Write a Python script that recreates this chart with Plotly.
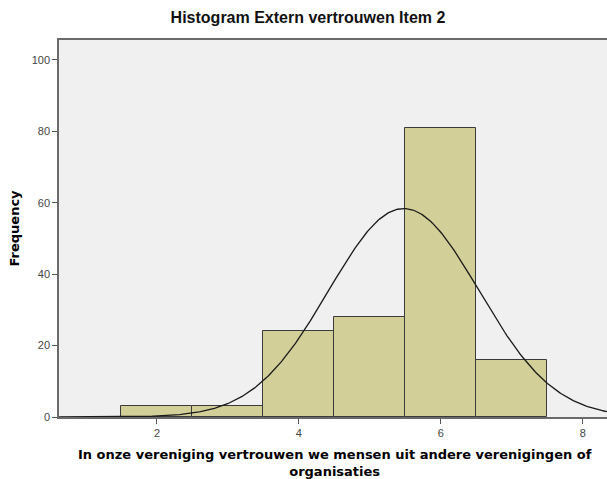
import numpy as np
import plotly.graph_objects as go

# Response categories and their counts
categories = [2, 3, 4, 5, 6, 7]
counts = [3, 3, 24, 28, 81, 16]
x_ticks = [2, 4, 6, 8]
y_ticks = [0, 20, 40, 60, 80, 100]

# Normal curve scaled to the histogram (bin width 1)
vals = np.repeat(categories, counts)
n = len(vals)
mu = vals.mean()
sd = vals.std(ddof=1)
xs = np.linspace(0.6, 8.4, 400)
ys = n * 1.0 / (sd * np.sqrt(2 * np.pi)) * np.exp(-0.5 * ((xs - mu) / sd) ** 2)

fig = go.Figure()
fig.add_trace(go.Bar(
    x=categories, y=counts, width=1,
    marker=dict(color="#D3CF98", line=dict(color="#3a3a3a", width=1)),
    hoverinfo="skip",
))
fig.add_trace(go.Scatter(
    x=xs, y=ys, mode="lines",
    line=dict(color="#1a1a1a", width=1.3),
    hoverinfo="skip",
))

sans = "Liberation Sans, Arial, sans-serif"
wide = "DejaVu Sans, Verdana, sans-serif"
fig.update_layout(
    width=607, height=479,
    margin=dict(l=59, r=0, t=40, b=62),
    paper_bgcolor="white",
    plot_bgcolor="#F0F0F0",
    showlegend=False,
    bargap=0,
    title=dict(text="<b>Histogram Extern vertrouwen Item 2</b>",
               xref="container", x=0.5074, xanchor="center",
               yref="container", y=0.964, yanchor="middle",
               font=dict(family=sans, size=16, color="#111")),
    font=dict(family=sans),
    annotations=[
        dict(text="<b>In onze vereniging vertrouwen we mensen uit andere verenigingen of<br>organisaties</b>",
             xref="paper", yref="paper", x=0.5036, y=-0.122,
             xanchor="center", yanchor="middle", showarrow=False,
             font=dict(family=wide, size=13, color="#000")),
        dict(text="<b>Frequency</b>", textangle=-90,
             xref="paper", yref="paper", x=-0.0821, y=0.5,
             xanchor="center", yanchor="middle", showarrow=False,
             font=dict(family=wide, size=13, color="#000")),
    ],
)
fig.update_xaxes(
    range=[0.62, 8.34], tickvals=x_ticks,
    ticks="outside", ticklen=5, tickcolor="#555", tickwidth=1,
    tickfont=dict(size=11, color="#444"),
    showgrid=False, zeroline=False,
    showline=True, linecolor="#6a6a6a", linewidth=1.5, mirror=True,
)
fig.update_yaxes(
    range=[0, 105.6], tickvals=y_ticks,
    ticks="outside", ticklen=5, tickcolor="#555", tickwidth=1,
    tickfont=dict(size=11, color="#444"),
    showgrid=False, zeroline=False,
    showline=True, linecolor="#6a6a6a", linewidth=1.5,
)

fig.write_html("out.html")
